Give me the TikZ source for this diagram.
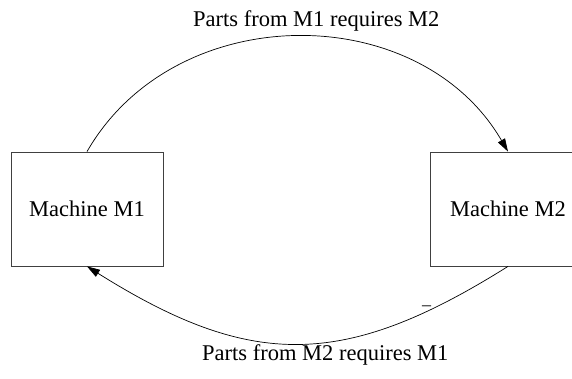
\documentclass[tikz,border=0pt]{standalone}
\usepackage{fontspec}
\setmainfont{Liberation Serif}
\usetikzlibrary{arrows.meta}
\begin{document}
\begin{tikzpicture}[x=1pt,y=-1pt,
  machine/.style={draw=black!75,line width=0.8pt,minimum width=152pt,minimum height=114pt,inner sep=0pt,font=\fontsize{22.5}{26}\selectfont},
  flow/.style={line width=0.7pt,-{Triangle[length=13pt,width=8pt]}},
  lbl/.style={anchor=base west,inner sep=0pt,font=\fontsize{22.5}{26}\selectfont}]
\useasboundingbox (0,0) rectangle (572,379);
\begin{scope}
\clip (0,0) rectangle (572,379);
\node[machine] (m1) at (87,209) {Machine M1};
\node[machine,minimum width=156pt] (m2) at (508,209) {Machine M2};
\end{scope}
\draw[flow] (m1.north) .. controls +(88,-153) and +(-89,-153) .. (m2.north);
\draw[flow] (m2.south) .. controls +(-164,103) and +(164,103) .. (m1.south);
\node[lbl] (t1) at (193,27) {Parts from M1 requires M2};
\node[lbl] (t2) at (202,360) {Parts from M2 requires M1};
\node[anchor=base west,inner sep=0pt,font=\fontsize{18}{20}\selectfont] (d) at (422,310) {–};
\end{tikzpicture}
\end{document}
